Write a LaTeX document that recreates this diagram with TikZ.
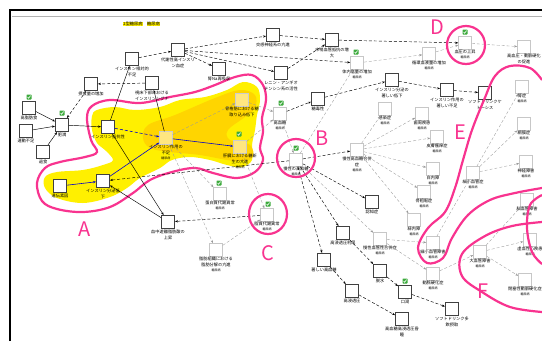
\documentclass[tikz,border=0pt]{standalone}
\usepackage{fontspec}
\setmainfont{Noto Sans CJK JP}
\usetikzlibrary{arrows.meta}
\definecolor{hlyellow}{HTML}{FFF000}
\definecolor{hlgold}{HTML}{FFD500}
\definecolor{boxyellow}{HTML}{FFE680}
\definecolor{pinkline}{HTML}{F8338F}
\definecolor{chkgreen}{HTML}{3DAA3D}
\newcommand\dmtag{\\[-1.5pt]{\fontsize{3}{3.5}\selectfont 糖尿病}}
\begin{document}
\begin{tikzpicture}[x=1pt,y=-1pt,>={Stealth[length=3pt,width=2.2pt]}]
    \tikzstyle{every node}=[font=\fontsize{4.2}{6}\selectfont]
    \tikzstyle{box}=[rectangle,draw=black!75,line width=0.9pt,fill=white,minimum size=13pt,inner sep=0pt]
    \tikzstyle{gbox}=[box,draw=black!22,line width=0.6pt]
    \tikzstyle{ybox}=[box,draw=black!20,line width=0.5pt,fill=boxyellow]
    \tikzstyle{lbl}=[align=center,inner sep=0.4pt,label distance=0pt]
    \tikzstyle{dep}=[->,densely dashed,black,line width=0.45pt]
    \tikzstyle{weak}=[->,densely dashed,black!40,line width=0.35pt]
    \tikzstyle{sol}=[->,black,line width=0.45pt]
    \tikzstyle{blu}=[->,blue!80!black,line width=0.6pt]
    \tikzstyle{ring}=[draw=pinkline,line width=2.2pt]
    \tikzstyle{letter}=[text=pinkline,font=\fontsize{20}{20}\selectfont,inner sep=0pt]
    \tikzset{chk/.pic={
        \fill[chkgreen,rounded corners=0.6pt] (-2.5,-2.5) rectangle (2.5,2.5);
        \draw[white,line width=0.6pt] (-1.5,0) -- (-0.4,1.2) -- (1.6,-1.4);}}
    \useasboundingbox (0,0) rectangle (542,341);

    % Frame
    \draw[line width=2pt] (10,341) -- (10,10) -- (542,10);
    \draw[black!30,line width=0.6pt] (12,16) -- (542,16);

    % Highlighted region A
    \fill[hlyellow] plot[smooth cycle,tension=0.6] coordinates {(92,116) (97,110) (115,107) (135,110) (160,107) (180,100) (205,97) (227,90) (243,82) (257,87) (260,100) (257,115) (255,130) (252,145) (252,160) (242,167) (227,165) (210,160) (190,157) (172,160) (160,168) (140,178) (127,188) (110,197) (83,203) (57,198) (45,188) (45,177) (57,172) (83,170) (103,165) (113,160) (105,150) (97,143) (92,130)};
    \fill[hlgold] plot[smooth cycle,tension=0.6] coordinates {(148,125) (175,115) (215,98) (240,90) (255,95) (255,108) (245,117) (228,130) (230,140) (250,145) (252,158) (235,161) (200,155) (170,152) (150,148) (143,138)};
    \draw[ring] plot[smooth cycle,tension=0.6] coordinates {(87,118) (92,106) (110,100) (140,103) (170,97) (195,92) (215,85) (235,77) (252,75) (263,85) (266,100) (262,118) (263,132) (260,148) (263,160) (255,172) (237,178) (213,173) (195,168) (172,172) (150,180) (133,193) (110,207) (83,212) (57,209) (42,201) (37,183) (45,168) (60,162) (85,157) (97,152) (91,140)};

    % Title
    \node[fill=hlyellow,inner sep=0.5pt] (ttl) at (133,24) {2型糖尿病};
    \node[fill=hlyellow,inner sep=0.5pt] (ttl2) at (153.5,24) {糖尿病};

    % Causes and insulin action
    \node[box,label={[lbl]below:高脂肪食}] (kos) at (29,108) {};
    \node[box,label={[lbl]below:運動不足}] (und) at (26,131) {};
    \node[box,label={[lbl]below:過食}] (kas) at (43,152) {};
    \node[box,label={[lbl]below:肥満}] (him) at (62,125) {};
    \node[box,label={[lbl]below:遺伝素因}] (ide) at (60,186) {};
    \node[box,label={[lbl]below:インスリン抵抗性}] (tei) at (108,127) {};
    \node[box,label={[lbl]below:インスリン分泌低\\下}] (bun) at (103,181) {};
    \node[ybox,label={[lbl]below:インスリン作用の\\不足\dmtag}] (fus) at (166,138) {};
    \node[ybox,label={[lbl]below:骨格筋における糖\\取り込み低下}] (kin) at (242,100) {};
    \node[ybox,label={[lbl]below:肝臓における糖新\\生の亢進\dmtag}] (kan) at (240,147) {};
    \node[box,label={[lbl]below:血中遊離脂肪酸の\\上昇}] (ffa) at (168,222) {};
    \node[box,label={[lbl]below:インスリン相対的\\不足}] (sou) at (132,59) {};
    \node[box,label={[lbl]below:代謝性高インスリ\\ン血症}] (kou) at (178,50) {};
    \node[box,label={[lbl]below:視床下部における\\インスリンシグナ}] (sis) at (152,83) {};
    \node[box,label={[lbl]below:摂食量の増加}] (ses) at (91,84) {};
    \node[box,label={[lbl]below:腎Na再吸収}] (jin) at (219,69) {};
    \node[box,label={[lbl]below:交感神経系の亢進}] (kok) at (273,35) {};
    \node[box,label={[lbl]below:レニン・アンギオ\\テンシン系の活性}] (ren) at (281,73) {};
    \node[box,label={[lbl]below:末梢血管抵抗の増\\大}] (mas) at (332,40) {};
    \node[box,label={[lbl]below:糖毒性}] (dok) at (318,99) {};
    \node[box,label={[lbl]below:インスリン分泌の\\著しい低下}] (bun2) at (392,80) {};
    \node[box,label={[lbl]below:インスリン作用の\\著しい不足}] (fus2) at (447,90) {};
    \node[box,label={[lbl]below:ソフトドリンクケ\\トーシス}] (sket) at (485,93) {};
    \node[box,label={[lbl]below:認知症}] (nin) at (372,202) {};
    \node[box,label={[lbl]below:高浸透圧利尿}] (rin) at (343,233) {};
    \node[box,label={[lbl]below:著しい高血糖}] (ich) at (324,260) {};
    \node[box,label={[lbl]below:脱水}] (dat) at (380,271) {};
    \node[box,label={[lbl]below:口渇}] (kat) at (405,292) {};
    \node[box,label={[lbl]below:高浸透圧}] (sin) at (352,291) {};
    \node[box,label={[lbl]below:ソフトドリンク多\\飲摂取}] (sof) at (452,309) {};
    \node[box,label={[lbl]below:高血糖高浸透圧昏\\睡}] (kon) at (402,319) {};

    % Hyperglycemia and complications
    \node[gbox,label={[lbl]below:高血糖\dmtag}] (hg) at (280,114) {};
    \node[gbox,label={[lbl]below:慢性の高血糖\dmtag}] (mhg) at (296,160) {};
    \node[gbox,label={[lbl]below:蛋白質代謝異常\dmtag}] (tan) at (220,194) {};
    \node[gbox,label={[lbl]below:脂質代謝異常\dmtag}] (shi) at (267,215) {};
    \node[gbox,label={[lbl]below:脂肪組織における\\脂肪分解の亢進\dmtag}] (shb) at (216,250) {};
    \node[gbox,label={[lbl]below:体内塩量の増加\dmtag}] (tai) at (357,63) {};
    \node[gbox,label={[lbl]below:循環血液量の増加\dmtag}] (jun) at (429,54) {};
    \node[gbox,label={[lbl]below:血圧の上昇\dmtag}] (ket) at (465,43) {};
    \node[gbox,label={[lbl]below:高血圧・動脈硬化\\の促進}] (kak) at (524,47) {};
    \node[gbox,label={[lbl]below:腎症\dmtag}] (jsh) at (522,87) {};
    \node[gbox,label={[lbl]below:網膜症\dmtag}] (mom) at (524,124) {};
    \node[gbox,label={[lbl]below:神経障害\dmtag}] (shk) at (526,162) {};
    \node[gbox,label={[lbl]below:細小血管症\dmtag}] (sai) at (473,173) {};
    \node[gbox,label={[lbl]below:慢性高血糖合併\\症\dmtag}] (mgp) at (357,150) {};
    \node[gbox,label={[lbl]below:感染症\dmtag}] (kns) at (385,109) {};
    \node[gbox,label={[lbl]below:歯周疾患\dmtag}] (shs) at (422,114) {};
    \node[gbox,label={[lbl]below:皮膚瘙痒症\dmtag}] (hif) at (437,137) {};
    \node[gbox,label={[lbl]below:白内障\dmtag}] (hak) at (433,169) {};
    \node[gbox,label={[lbl]below:骨粗鬆症\dmtag}] (kot) at (424,192) {};
    \node[gbox,label={[lbl]below:緑内障\dmtag}] (ryo) at (414,220) {};
    \node[gbox,label={[lbl]below:慢性血管性合併症\dmtag}] (gap) at (380,239) {};
    \node[gbox,label={[lbl]below:細小血管障害\dmtag}] (sai2) at (433,243) {};
    \node[gbox,label={[lbl]below:動脈硬化症\dmtag}] (dom) at (433,274) {};
    \node[gbox,label={[lbl]below:大血管障害\dmtag}] (dai) at (480,252) {};
    \node[gbox,label={[lbl]below:脳血管障害\dmtag}] (nou) at (527,200) {};
    \node[gbox,label={[lbl]below:虚血性心疾患\dmtag}] (kyo) at (530,240) {};
    \node[gbox,label={[lbl]below:閉塞性動脈硬化症\dmtag}] (hei) at (525,280) {};

    % Checked marks
    \foreach \p in {(29,97),(62,113),(239,134),(281,103),(296,148),(219,183),(268,204),(465,32),(405,281),(356,52)}
        \pic at \p {chk};

    % Causes of insulin shortage
    \foreach \source in {kos,und,kas}
        \draw[sol] (\source) -- (him);
    \draw[dep] (ses) -- (him);
    \draw[sol] (him) -- (tei);
    \draw[dep] (sis) -- (ses);
    \draw[sol] (fus) -- (sis);
    \draw[sol] (tei) -- (sou);
    \draw[sol] (tei) -- (ffa);
    \draw[sol] (ffa) -- (bun);
    \draw[blu,densely dashed] (tei) -- (fus);
    \draw[blu] (ide) -- (bun);
    \draw[blu] (bun) -- (fus);
    \draw[blu] (fus) -- (kan);
    \draw[weak] (fus) -- (kin);
    \draw[weak] (kin) -- (hg);
    \draw[weak] (kan) -- (hg);
    \draw[weak] (fus) -- (tan);
    \draw[weak] (fus) -- (shb);
    \draw[weak] (shb) -- (shi);
    \draw[weak] (kan) -- (shi);
    \draw[dep] (shi) -- (ffa);

    % Hyperinsulinemia and blood pressure
    \draw[dep] (sou) -- (kou);
    \foreach \dest in {kok,jin,ren,tai}
        \draw[dep] (kou) -- (\dest);
    \draw[dep] (kok) -- (mas);
    \draw[dep] (ren) -- (mas);
    \draw[dep] (mas) -- (ket);
    \draw[weak] (tai) -- (jun);
    \draw[weak] (jun) -- (ket);
    \draw[weak] (ket) -- (kak);

    % Hyperglycemia
    \draw[weak] (hg) -- (mhg);
    \draw[dep] (hg) -- (dok);
    \draw[dep] (dok) -- (bun2);
    \draw[dep] (bun2) -- (fus2);
    \draw[dep] (fus2) -- (sket);
    \draw[weak] (mhg) -- (tai);
    \draw[dep] (mhg) -- (bun);
    \draw[dep] (mhg) -- (mgp);
    \foreach \dest in {kns,shs,hif,hak,kot,ryo}
        \draw[weak] (mgp) -- (\dest);
    \foreach \dest in {nin,rin,ich}
        \draw[dep] (mhg) -- (\dest);
    \draw[dep] (rin) -- (dat);
    \draw[dep] (ich) -- (sin);
    \draw[dep] (dat) -- (kat);
    \draw[dep] (kat) -- (sof);
    \draw[dep] (sin) -- (kon);

    % Vascular complications
    \draw[weak] (mhg) -- (gap);
    \draw[weak] (gap) -- (sai2);
    \draw[weak] (gap) -- (dom);
    \draw[weak] (sai2) -- (sai);
    \foreach \dest in {jsh,mom,shk}
        \draw[weak] (sai) -- (\dest);
    \draw[weak] (dom) -- (dai);
    \foreach \dest in {nou,kyo,hei}
        \draw[weak] (dai) -- (\dest);

    % Circled groups
    \draw[ring] (296,158) circle (19);
    \draw[ring] (268,214) ellipse (19 and 20);
    \draw[ring] (466,45) circle (19);
    \draw[ring] plot[smooth,tension=0.6] coordinates {(542,80) (530,68) (510,66) (495,76) (484,100) (472,130) (463,160) (455,188) (445,212) (428,228) (418,248) (427,263) (443,258) (452,238) (468,215) (490,200) (515,193) (542,188)};
    \draw[ring] plot[smooth,tension=0.6] coordinates {(542,195) (530,205) (527,228) (532,252) (542,264)};
    \draw[ring] plot[smooth,tension=0.6] coordinates {(542,222) (512,226) (485,236) (462,254) (462,276) (482,292) (510,307) (542,312)};
    \node[letter] (la) at (85,229) {A};
    \node[letter] (lb) at (322,138) {B};
    \node[letter] (lc) at (268,253) {C};
    \node[letter] (ld) at (437,27) {D};
    \node[letter] (le) at (460,132) {E};
    \node[letter] (lf) at (483,291) {F};
\end{tikzpicture}
\end{document}
